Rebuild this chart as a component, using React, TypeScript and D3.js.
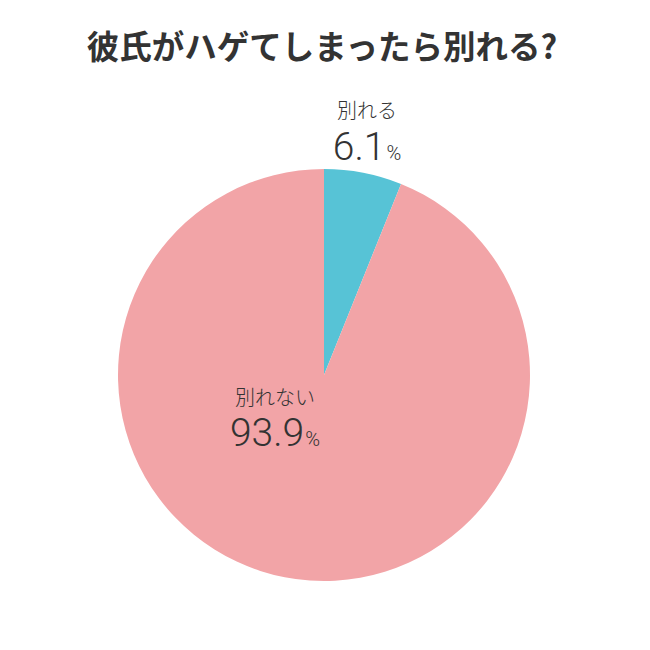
import React from "react";
import * as d3 from "d3";

const title = "彼氏がハゲてしまったら別れる?";
const categories = ["別れる", "別れない"];
const values = [6.1, 93.9];
const colors = ["#57c3d6", "#f2a4a7"];

export default function App() {
  const width = 650, height = 650;
  const cx = 324, cy = 375, r = 206;
  const pie = d3.pie<number>().sort(null).value((d) => d);
  const arcs = pie(values);
  const arc = d3.arc<d3.PieArcDatum<number>>().innerRadius(0).outerRadius(r);
  const labelPos = [
    { x: 367, y1: 118, y2: 160 },
    { x: 275, y1: 405, y2: 446 },
  ];
  const font = "'Noto Sans CJK JP', 'Noto Sans', sans-serif";
  return (
    <svg width={width} height={height} style={{ position: "absolute", left: 0, top: 0 }}>
      <rect width={width} height={height} fill="#fff" />
      <text x={322} y={59} textAnchor="middle" fontSize={32.5} fontWeight={700} fill="#333" fontFamily={font}>
        {title}
      </text>
      <g transform={`translate(${cx},${cy})`}>
        {arcs.map((a, i) => (
          <path key={i} d={arc(a) || ""} fill={colors[i]} />
        ))}
      </g>
      {categories.map((c, i) => (
        <g key={c}>
          <text x={labelPos[i].x} y={labelPos[i].y1} textAnchor="middle" fontSize={20} fill="#333" fontFamily={font} fontWeight={300}>
            {c}
          </text>
          <text x={labelPos[i].x} y={labelPos[i].y2} textAnchor="middle" fill="#333" fontFamily="Roboto, Lato, sans-serif" fontWeight={300}>
            <tspan fontSize={39}>{values[i].toFixed(1)}</tspan>
            <tspan fontSize={20} dx={1}>%</tspan>
          </text>
        </g>
      ))}
    </svg>
  );
}
